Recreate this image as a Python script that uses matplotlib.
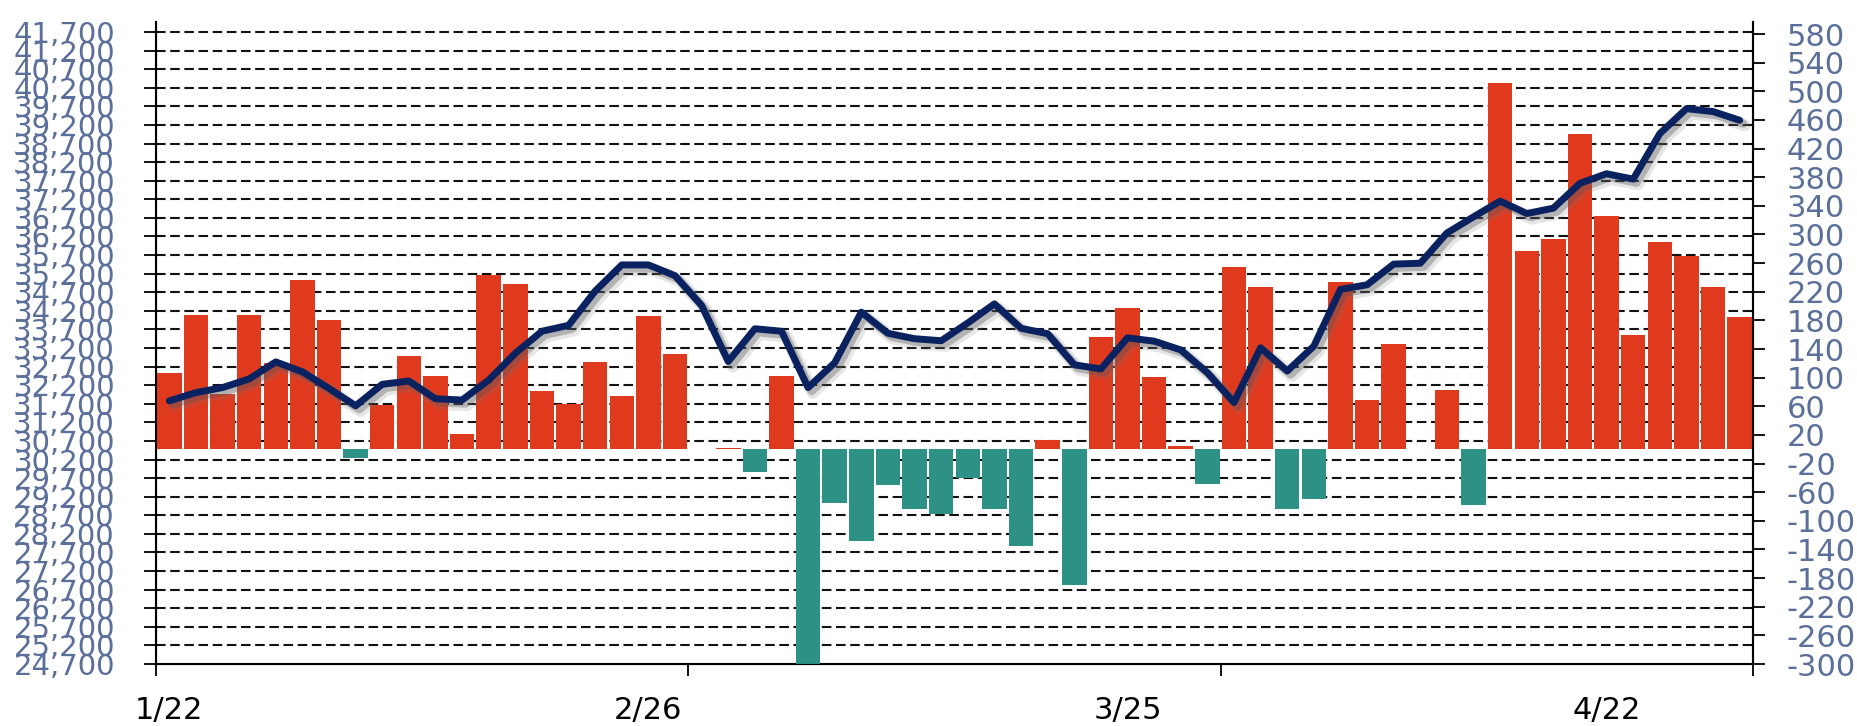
import numpy as np
import matplotlib
matplotlib.use("Agg")
import matplotlib.pyplot as plt
import matplotlib.patheffects as pe
from matplotlib.ticker import FixedLocator, FuncFormatter

# daily values, 60 sessions
bar_values = [107, 188, 77, 187, 120, 237, 180, -12, 62, 130,
              103, 21, 243, 231, 82, 63, 122, 74, 186, 133,
              0, 2, -32, 103, -300, -75, -128, -50, -84, -91,
              -40, -84, -135, 13, -189, 157, 197, 101, 5, -49,
              254, 226, -84, -69, 233, 69, 147, 0, 83, -78,
              511, 277, 293, 441, 326, 159, 289, 270, 226, 185]

index_values = [31778, 32001, 32135, 32369, 32826, 32559, 32113, 31644, 32224, 32313,
                31834, 31801, 32336, 33060, 33651, 33810, 34732, 35435, 35435, 35145,
                34342, 32837, 33718, 33651, 32135, 32804, 34164, 33595, 33450, 33395,
                33874, 34387, 33729, 33584, 32748, 32637, 33473, 33384, 33149, 32536,
                31734, 33205, 32581, 33250, 34777, 34900, 35457, 35480, 36293, 36728,
                37152, 36817, 36962, 37631, 37887, 37742, 38969, 39638, 39560, 39325]

date_labels = ["1/22", "2/26", "3/25", "4/22"]
date_idx = [0, 18, 36, 54]

left_ticks = list(range(24700, 41701, 500))
right_ticks = list(range(-300, 581, 40))

RED = "#e03a1e"
TEAL = "#2e9185"
NAVY = "#0b2260"
LABEL = "#5b6f9b"

n = len(bar_values)
x = np.arange(n)

fig = plt.figure(figsize=(18.58, 7.26), dpi=100)
ax = fig.add_axes([156 / 1858, 1 - 664 / 726, (1753 - 156) / 1858, (664 - 22) / 726])

# left axis: index level + dashed grid
ax.set_xlim(-0.5, n - 0.5)
ax.set_ylim(24700, 41969)
ax.yaxis.set_major_locator(FixedLocator(left_ticks))
ax.yaxis.set_major_formatter(FuncFormatter(lambda v, p: f"{int(v):,}"))
ax.tick_params(axis="y", which="major", direction="out", length=8.6, width=1.3,
               labelsize=21, labelcolor=LABEL, pad=21)
for yv in left_ticks[1:]:
    ax.axhline(yv, color="#111111", lw=1.5, ls=(0, (4.6, 2.2)), zorder=0)

# x axis: ticks every 20 sessions, labels every 18
ax.xaxis.set_major_locator(FixedLocator([-0.5, 19.5, 39.5, 59.5]))
ax.xaxis.set_major_formatter(FuncFormatter(lambda v, p: ""))
ax.xaxis.set_minor_locator(FixedLocator(date_idx))
ax.set_xticklabels(date_labels, minor=True)
ax.tick_params(axis="x", which="major", direction="out", length=8.6, width=1.3)
ax.tick_params(axis="x", which="minor", length=0, labelsize=22, labelcolor="black", pad=23)

for s in ["left", "bottom", "right"]:
    ax.spines[s].set_linewidth(1.5)
    ax.spines[s].set_color("black")
ax.spines["top"].set_visible(False)

# right axis: bars
ax2 = ax.twinx()
ax2.set_ylim(-300, 596.8)
colors = [RED if v >= 0 else TEAL for v in bar_values]
ax2.bar(x, bar_values, width=0.92, color=colors, linewidth=0, zorder=2)
ax2.yaxis.set_major_locator(FixedLocator(right_ticks))
ax2.yaxis.set_major_formatter(FuncFormatter(lambda v, p: f"{int(v)}"))
ax2.tick_params(axis="y", direction="out", length=8.6, width=1.3,
                labelsize=22, labelcolor=LABEL, pad=15.5)
ax2.spines["top"].set_visible(False)
ax2.spines["right"].set_linewidth(1.5)
ax2.set_xlim(-0.5, n - 0.5)

# line on top, same scale as left axis
ax3 = ax.twinx()
ax3.set_ylim(ax.get_ylim())
ax3.set_xlim(-0.5, n - 0.5)
ax3.axis("off")
ax3.plot(x, index_values, color=NAVY, lw=5, solid_joinstyle="round",
         solid_capstyle="round",
         path_effects=[pe.SimpleLineShadow(offset=(3.5, -3.5), shadow_color="#777777",
                                           alpha=0.18, linewidth=9),
                       pe.SimpleLineShadow(offset=(2.5, -2.5), shadow_color="#555555",
                                           alpha=0.35, linewidth=6),
                       pe.Normal()])

fig.savefig("out.png", dpi=100)
